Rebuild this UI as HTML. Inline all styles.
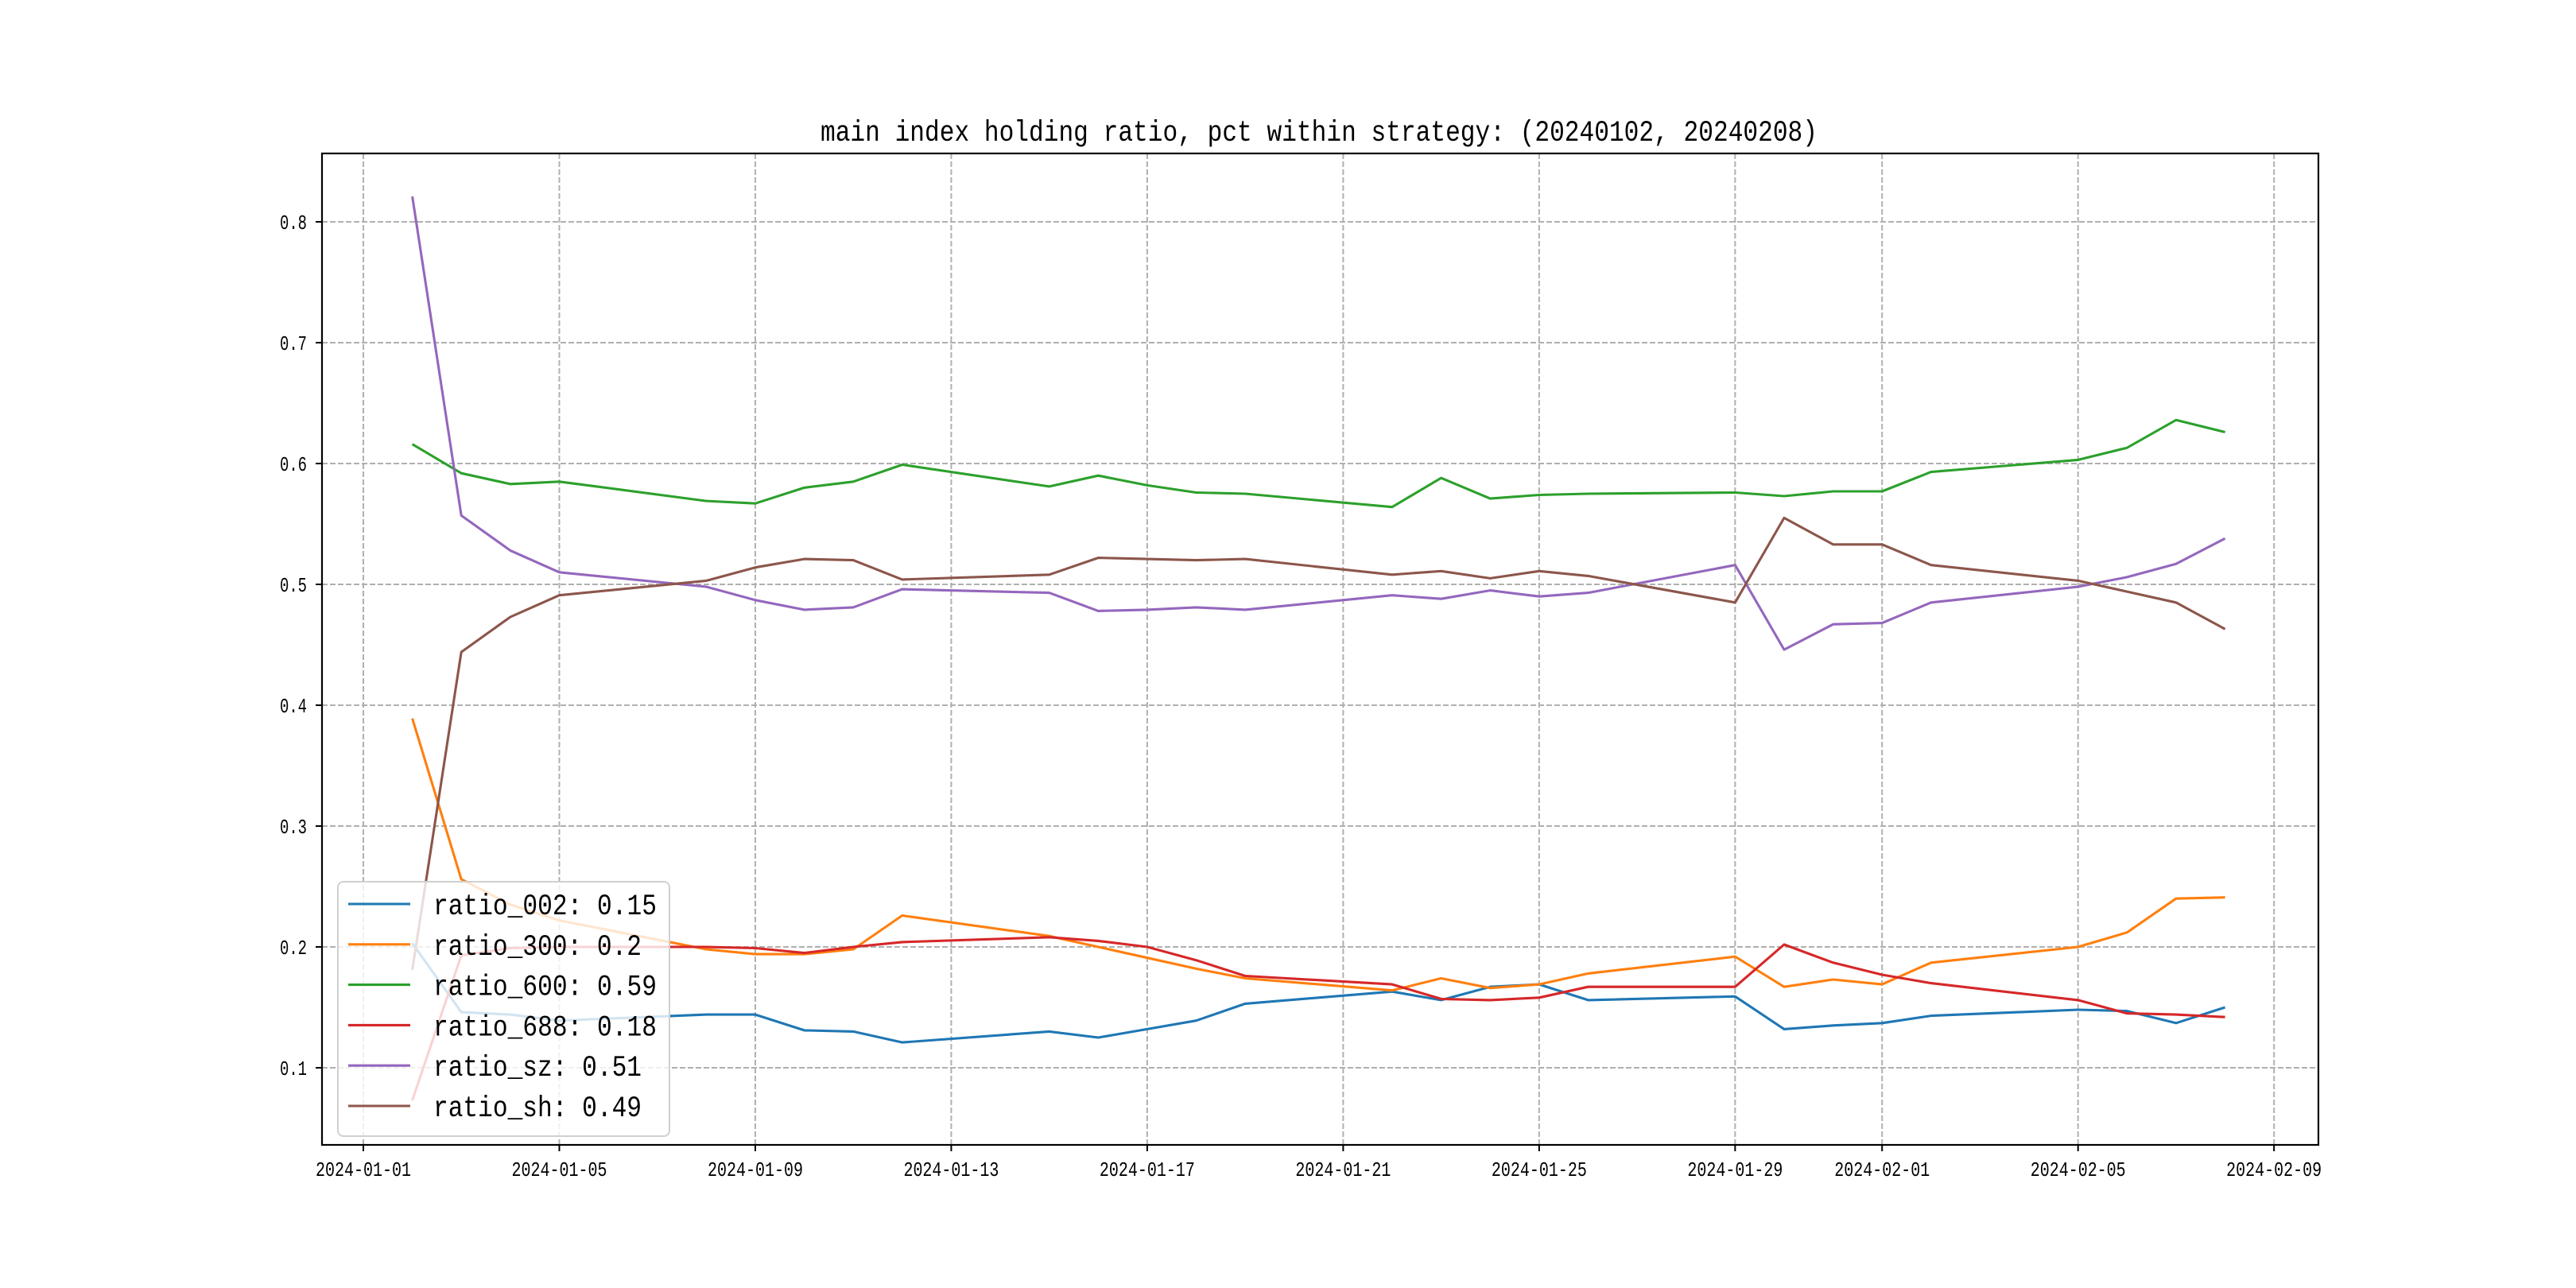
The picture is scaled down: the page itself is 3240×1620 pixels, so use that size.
<!DOCTYPE html>
<html><head><meta charset="utf-8"><style>
html,body{margin:0;padding:0;background:#fff;}
svg{display:block;}
text{font-family:"Liberation Mono","Noto Sans CJK SC",monospace;fill:#000;}
</style></head><body>
<svg id="chart" width="3240" height="1620" viewBox="0 0 3240 1620" xmlns="http://www.w3.org/2000/svg">
<rect width="3240" height="1620" fill="#fff"/>
<text x="1659" y="177" font-size="37" text-anchor="middle" textLength="1254" lengthAdjust="spacingAndGlyphs">main index holding ratio, pct within strategy: (20240102, 20240208)</text>
<g id="grid"></g><g id="series"></g>
<rect x="405" y="193" width="2511" height="1247" fill="none" stroke="#000" stroke-width="2.2"/>
<g id="ticks"></g><g id="legend"></g>
</svg>
<script>
const dates = ["2024-01-02","2024-01-03","2024-01-04","2024-01-05","2024-01-08","2024-01-09","2024-01-10","2024-01-11","2024-01-12","2024-01-15","2024-01-16","2024-01-17","2024-01-18","2024-01-19","2024-01-22","2024-01-23","2024-01-24","2024-01-25","2024-01-26","2024-01-29","2024-01-30","2024-01-31","2024-02-01","2024-02-02","2024-02-05","2024-02-06","2024-02-07","2024-02-08"];
const ratio002 = [0.203,0.146,0.144,0.139,0.144,0.144,0.131,0.130,0.121,0.130,0.125,0.132,0.139,0.153,0.163,0.156,0.167,0.169,0.156,0.159,0.132,0.135,0.137,0.143,0.148,0.147,0.137,0.150];
const ratio300 = [0.389,0.256,0.235,0.222,0.198,0.194,0.194,0.198,0.226,0.209,0.200,0.191,0.182,0.174,0.164,0.174,0.166,0.169,0.178,0.192,0.167,0.173,0.169,0.187,0.200,0.212,0.240,0.241];
const ratio600 = [0.616,0.592,0.583,0.585,0.569,0.567,0.580,0.585,0.599,0.581,0.590,0.582,0.576,0.575,0.564,0.588,0.571,0.574,0.575,0.576,0.573,0.577,0.577,0.593,0.603,0.613,0.636,0.626];
const ratio688 = [0.073,0.193,0.199,0.200,0.200,0.199,0.195,0.200,0.204,0.208,0.205,0.200,0.189,0.176,0.169,0.157,0.156,0.158,0.167,0.167,0.202,0.187,0.177,0.170,0.156,0.145,0.144,0.142];
const ratioSz = [0.821,0.557,0.528,0.510,0.498,0.487,0.479,0.481,0.496,0.493,0.478,0.479,0.481,0.479,0.491,0.488,0.495,0.490,0.493,0.516,0.446,0.467,0.468,0.485,0.498,0.506,0.517,0.538];
const ratioSh = [0.181,0.444,0.473,0.491,0.503,0.514,0.521,0.520,0.504,0.508,0.522,0.521,0.520,0.521,0.508,0.511,0.505,0.511,0.507,0.485,0.555,0.533,0.533,0.516,0.503,0.494,0.485,0.463];
const seriesNames = ["ratio_002: 0.15","ratio_300: 0.2","ratio_600: 0.59","ratio_688: 0.18","ratio_sz: 0.51","ratio_sh: 0.49"];
const seriesKeys = ["ratio-002","ratio-300","ratio-600","ratio-688","ratio-sz","ratio-sh"];
const seriesColors = ["#1f77b4","#ff7f0e","#2ca02c","#d62728","#9467bd","#8c564b"];
const yTicks = [0.1,0.2,0.3,0.4,0.5,0.6,0.7,0.8];
const xTicks = ["2024-01-01","2024-01-05","2024-01-09","2024-01-13","2024-01-17","2024-01-21","2024-01-25","2024-01-29","2024-02-01","2024-02-05","2024-02-09"];

const NS="http://www.w3.org/2000/svg";
const L=405,R=2916,T=193,B=1440;
const day0=Date.UTC(2024,0,1);
function dayNum(s){const p=s.split('-');return (Date.UTC(+p[0],+p[1]-1,+p[2])-day0)/86400000;}
function xs(s){return 457+dayNum(s)*61.62;}
function ys(v){return 1343-(v-0.1)*1520;}
function mk(tag,attrs,parent){const e=document.createElementNS(NS,tag);for(const k in attrs)e.setAttribute(k,attrs[k]);parent.appendChild(e);return e;}
const grid=document.getElementById('grid'),ticks=document.getElementById('ticks'),ser=document.getElementById('series'),leg=document.getElementById('legend');

yTicks.forEach(v=>{
  const y=ys(v);
  const g=mk('line',{x1:L,x2:R,y1:y,y2:y,stroke:'#b0b0b0','stroke-width':2,'stroke-dasharray':'7,3'},grid);
  
  
  const t=mk('line',{x1:L-8,x2:L,y1:y,y2:y,stroke:'#000','stroke-width':2},ticks);
  
  
  const lb=mk('text',{x:L-19,y:y+9,'font-size':26,'text-anchor':'end',textLength:34,lengthAdjust:'spacingAndGlyphs'},ticks);
  lb.textContent=v.toFixed(1);
  
  
});
xTicks.forEach(d=>{
  const x=xs(d);
  const g=mk('line',{x1:x,x2:x,y1:T,y2:B,stroke:'#b0b0b0','stroke-width':2,'stroke-dasharray':'7,3'},grid);
  
  
  const t=mk('line',{x1:x,x2:x,y1:B,y2:B+8,stroke:'#000','stroke-width':2},ticks);
  
  
  const lb=mk('text',{x:x,y:B+39,'font-size':26,'text-anchor':'middle',textLength:120,lengthAdjust:'spacingAndGlyphs'},ticks);
  lb.textContent=d;
  
  
});
const allSeries=[ratio002,ratio300,ratio600,ratio688,ratioSz,ratioSh];
allSeries.forEach((vals,i)=>{
  const pts=vals.map((v,j)=>xs(dates[j]).toFixed(1)+','+ys(v).toFixed(1)).join(' ');
  const pl=mk('polyline',{points:pts,fill:'none',stroke:seriesColors[i],'stroke-width':3.1,'stroke-linejoin':'round'},ser);
  
  
});
const box=mk('rect',{x:425,y:1109,width:417,height:320,rx:7,fill:'#fff','fill-opacity':0.8,stroke:'#d0d0d0','stroke-width':2},leg);


seriesNames.forEach((n,i)=>{
  const y=1137+i*50.8;
  const ln=mk('line',{x1:438,x2:516,y1:y,y2:y,stroke:seriesColors[i],'stroke-width':3.1},leg);
  
  
  const t=mk('text',{x:545,y:y+13,'font-size':37,textLength:(n.length*18.7).toFixed(0),lengthAdjust:'spacingAndGlyphs'},leg);
  t.textContent=n;
  
  
});
</script>
</body></html>
